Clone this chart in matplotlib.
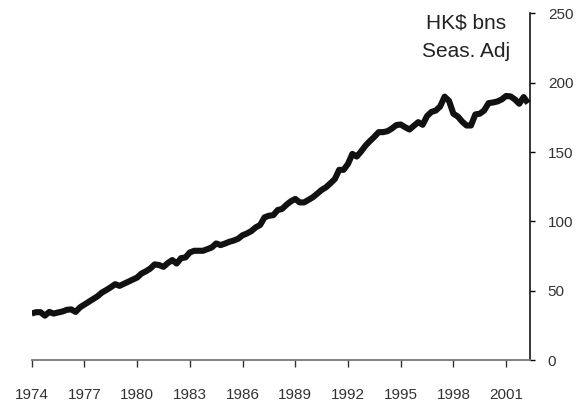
import numpy as np
import matplotlib
matplotlib.use("Agg")
import matplotlib.pyplot as plt

# Quarterly series, 1974Q1 .. 2002Q2 (HK$ bns, seasonally adjusted)
start_year = 1974
values = [
    33.5, 34.5, 34.5, 32.0,      # 1974
    34.7, 33.5, 34.3, 35.0,      # 1975
    36.2, 36.5, 34.7, 38.0,      # 1976
    40.0, 42.0, 44.0, 46.0,      # 1977
    48.7, 50.5, 52.5, 54.7,      # 1978
    53.5, 55.0, 56.5, 58.0,      # 1979
    59.5, 62.4, 64.0, 66.0,      # 1980
    69.0, 68.5, 67.2, 70.0,      # 1981
    72.1, 69.6, 73.5, 74.0,      # 1982
    77.6, 78.8, 78.8, 78.8,      # 1983
    80.0, 81.2, 84.1, 82.9,      # 1984
    84.0, 85.3, 86.2, 87.5,      # 1985
    90.0, 91.3, 93.0, 95.7,      # 1986
    97.4, 102.9, 104.1, 104.5,   # 1987
    108.2, 109.0, 112.0, 114.5,  # 1988
    116.2, 113.7, 113.7, 115.5,  # 1989
    117.4, 120.0, 122.7, 124.6,  # 1990
    127.5, 130.5, 137.2, 137.2,  # 1991
    141.5, 148.7, 146.8, 150.5,  # 1992
    154.7, 158.0, 161.0, 164.4,  # 1993
    164.4, 165.1, 167.0, 169.5,  # 1994
    169.9, 168.0, 166.3, 169.0,  # 1995
    171.6, 169.7, 176.0, 179.0,  # 1996
    180.0, 183.0, 190.0, 187.0,  # 1997
    177.7, 175.7, 172.0, 169.2,  # 1998
    169.2, 177.2, 177.7, 180.0,  # 1999
    185.3, 185.8, 186.5, 188.0,  # 2000
    190.5, 190.2, 188.0, 184.9,  # 2001
    189.7, 185.3,                # 2002
]
tick_years = [1974, 1977, 1980, 1983, 1986, 1989, 1992, 1995, 1998, 2001]
y_ticks = [0, 50, 100, 150, 200, 250]
unit_lines = ["HK$ bns", "Seas. Adj"]

x = start_year + np.arange(len(values)) / 4.0

W, H = 586, 407
fig = plt.figure(figsize=(W / 100, H / 100), dpi=100)
plt.rcParams['font.family'] = ['Liberation Sans', 'DejaVu Sans']

left_px, right_px = 31.7, 530.0
top_px, bottom_px = 13.5, 360.0
ax = fig.add_axes([left_px / W, 1 - bottom_px / H,
                   (right_px - left_px) / W, (bottom_px - top_px) / H])

ax.plot(x, values, color='#111111', lw=4.4, solid_joinstyle='round',
        solid_capstyle='butt')

ax.set_xlim(1974.0, 2002.36)
ax.set_ylim(0, 250)

for s in ['left', 'top']:
    ax.spines[s].set_visible(False)
ax.spines['right'].set_color('#000000')
ax.spines['right'].set_linewidth(1.1)
ax.spines['bottom'].set_color('#777777')
ax.spines['bottom'].set_linewidth(1.3)

ax.yaxis.tick_right()
ax.set_yticks(y_ticks)
ax.set_yticklabels([str(v) for v in y_ticks])
ax.set_xticks(tick_years)
ax.set_xticklabels([str(v) for v in tick_years])

ax.tick_params(axis='x', direction='out', length=5, width=1.0, color='#333333',
               pad=15.5, labelsize=11, labelcolor='#333333')
ax.tick_params(axis='y', direction='out', length=3.8, width=1.0, color='#000000',
               pad=9, labelsize=11, labelcolor='#333333')

fig.text(466 / W, 1 - 28 / H, unit_lines[0], ha='center', va='baseline',
         fontsize=15, color='#222222')
fig.text(466 / W, 1 - 57 / H, unit_lines[1], ha='center', va='baseline',
         fontsize=15, color='#222222')

fig.savefig('out.png', dpi=100)
